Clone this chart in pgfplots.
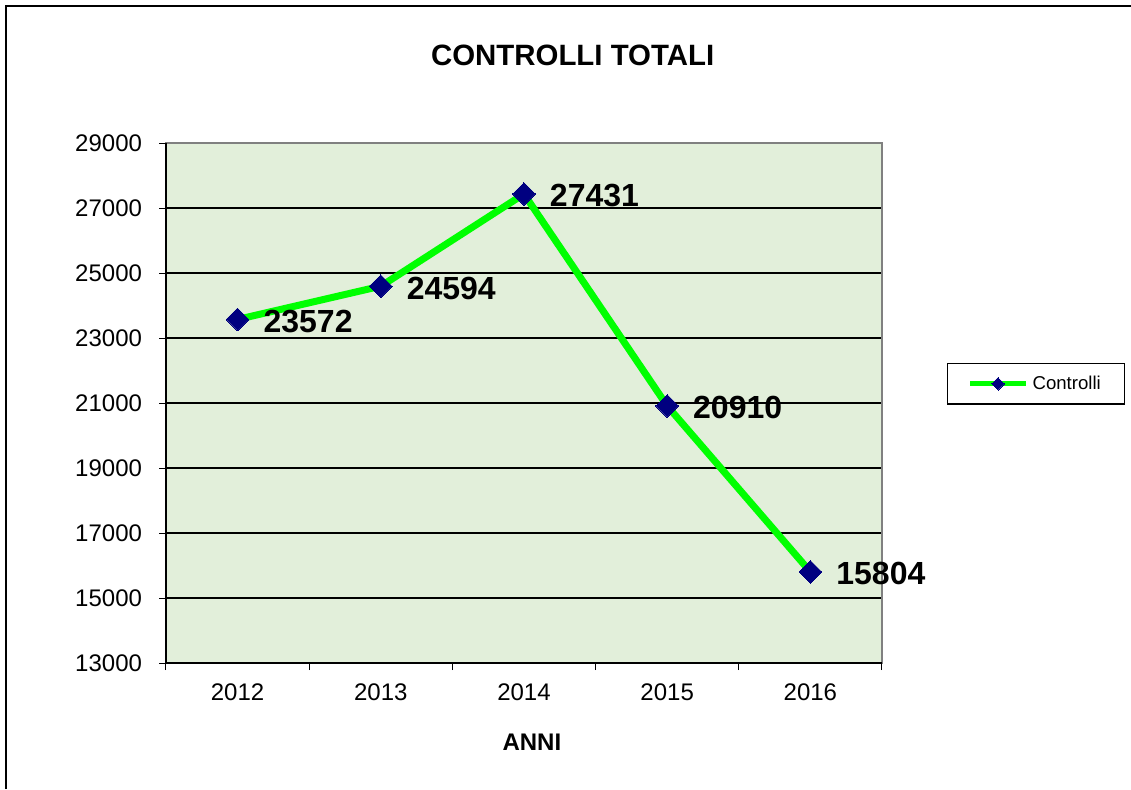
\documentclass[border=0pt]{standalone}
\usepackage{fontspec}
\setmainfont{Liberation Sans}
\usepackage{pgfplots}
\pgfplotsset{compat=1.18}
\definecolor{plotbg}{HTML}{E2EFDA}
\definecolor{linegreen}{HTML}{00FF00}
\definecolor{marknavy}{HTML}{000080}
\definecolor{framegray}{HTML}{808080}

\begin{document}
\begin{tikzpicture}
\useasboundingbox (0,0) rectangle (565.5pt,394.5pt);
% outer chart border (only left and top are visible)
\draw[line width=0.6pt] (3pt,0) -- (3pt,391.5pt) -- (565.5pt,391.5pt);
\begin{axis}[
  at={(83pt,63pt)}, anchor=south west,
  scale only axis, width=358pt, height=260pt,
  xmin=2011.5, xmax=2016.5, ymin=13000, ymax=29000,
  xtick={2011.5,2012.5,...,2016.5},
  xticklabels={2012,2013,2014,2015,2016},
  x tick label as interval,
  ytick={13000,15000,...,29000},
  scaled y ticks=false,
  tick pos=left, tick align=outside, major tick length=3.5pt,
  tick style={black, line width=0.5pt},
  /pgf/number format/assume math mode=true,
  yticklabel style={/pgf/number format/fixed, /pgf/number format/1000 sep={},
    font=\fontsize{12}{14}\selectfont, xshift=-5pt},
  xticklabel style={font=\fontsize{12}{14}\selectfont, yshift=-3.5pt},
  ymajorgrids, grid style={black, line width=1pt},
  axis background/.style={fill=plotbg},
  axis line style={framegray, line width=1pt},
  clip=false,
  title={CONTROLLI TOTALI},
  title style={at={(axis description cs:0.568,1.169)}, anchor=center, yshift=-6pt,
    font=\bfseries\fontsize{14.7}{17}\selectfont},
  xlabel={ANNI},
  xlabel style={at={(axis description cs:0.511,-0.152)}, anchor=center, font=\bfseries\fontsize{12}{14}\selectfont},
  legend style={at={(axis description cs:1.0908,0.5769)}, anchor=north west, draw=black, line width=0.6pt,
    font=\fontsize{9.3}{11}\selectfont, inner xsep=10pt, inner ysep=4pt},
  legend cell align=left,
  legend image code/.code={\draw[#1, line width=2.5pt, mark size=2.2pt, mark repeat=2, mark phase=2] plot coordinates {(0pt,0pt) (14pt,0pt) (28pt,0pt)};},
]
\addplot[linegreen, line width=3.5pt, mark=square*, mark size=4pt,
  mark options={rotate=45, fill=marknavy, draw=marknavy, line width=0pt},
  nodes near coords, point meta=explicit symbolic,
  every node near coord/.append style={anchor=west, inner sep=0pt, xshift=13pt, yshift=-1pt, text=black,
    font=\bfseries\fontsize{16}{18}\selectfont}]
coordinates {
  (2012,23572) [23572]
  (2013,24594) [24594]
  (2014,27431) [27431]
  (2015,20910) [20910]
  (2016,15804) [15804]
};
\addlegendentry{Controlli}
\draw[black, line width=0.6pt] (rel axis cs:0,1) -- (rel axis cs:0,0) -- (rel axis cs:1,0);
\end{axis}
\end{tikzpicture}
\end{document}
